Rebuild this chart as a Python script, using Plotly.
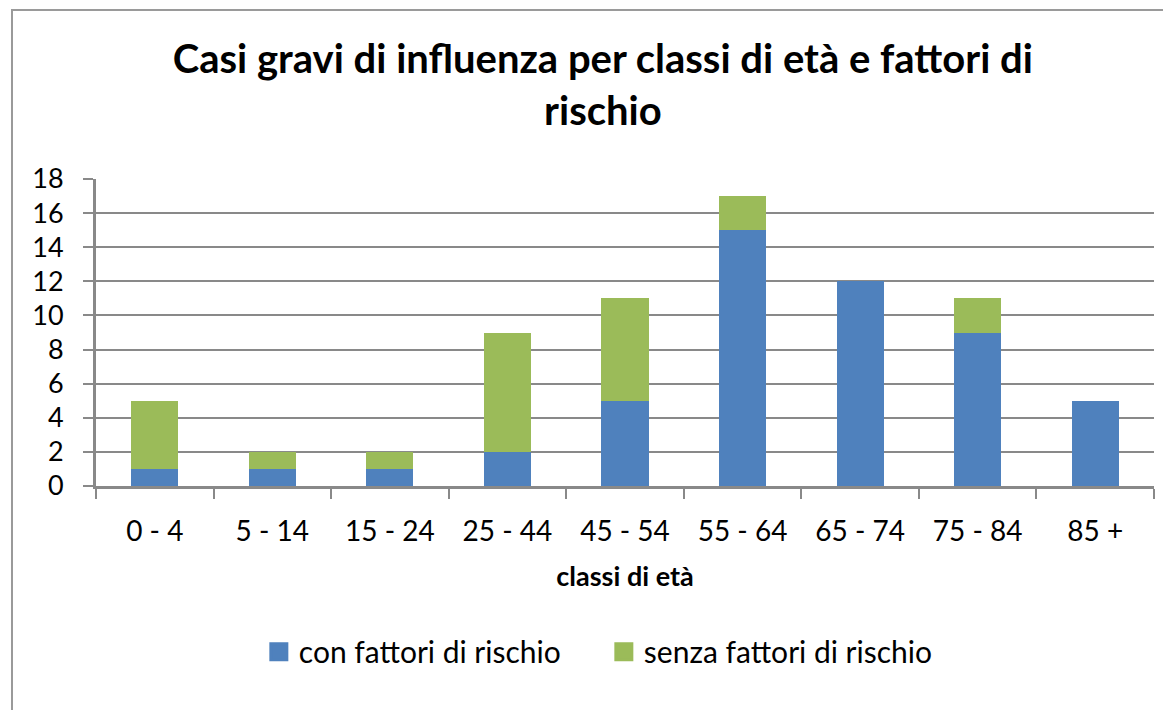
import plotly.graph_objects as go

categories = ["0 - 4", "5 - 14", "15 - 24", "25 - 44", "45 - 54", "55 - 64", "65 - 74", "75 - 84", "85 +"]
con_fattori = [1, 1, 1, 2, 5, 15, 12, 9, 5]
senza_fattori = [4, 1, 1, 7, 6, 2, 0, 2, 0]
y_ticks = [0, 2, 4, 6, 8, 10, 12, 14, 16, 18]
series_names = ["con fattori di rischio", "senza fattori di rischio"]
series_colors = ["#4F81BD", "#9BBB59"]

FONT = "Lato, 'Open Sans', sans-serif"

fig = go.Figure()
for vals, name, col in zip([con_fattori, senza_fattori], series_names, series_colors):
    fig.add_trace(go.Bar(x=categories, y=vals, name=name, showlegend=False, legendgroup=name,
                         marker=dict(color=col, line=dict(width=0))))
# legend entries with larger square swatches
for name, col in zip(series_names, series_colors):
    fig.add_trace(go.Scatter(x=[None], y=[None], mode="markers", name=name, legendgroup=name,
                             marker=dict(symbol="square", size=18, color=col,
                                         line=dict(color=col, width=3))))

fig.update_layout(
    width=1171, height=710,
    barmode="stack", bargap=0.6,
    paper_bgcolor="white", plot_bgcolor="white",
    margin=dict(l=88, r=25, t=171, b=232, autoexpand=False),
    font=dict(family=FONT, color="#000000"),
    title=dict(text="<b>Casi gravi di influenza per classi di età e fattori di<br>rischio</b>",
               x=0.508, xanchor="center", y=0.908, yanchor="middle",
               font=dict(size=40, family=FONT, color="#000000")),
    showlegend=True,
    legend=dict(orientation="h", x=0.48, xanchor="center", y=-0.54, yanchor="middle",
                font=dict(size=30, family=FONT, color="#000000"), itemwidth=30,
                entrywidth=300, entrywidthmode="pixels",
                traceorder="normal", bgcolor="rgba(0,0,0,0)"),
    xaxis=dict(type="category", showgrid=False, showline=True, linecolor="#898989", linewidth=3,
               ticks="outside", tickson="boundaries", ticklen=10, tickcolor="#898989", tickwidth=2,
               ticklabelstandoff=18,
               tickfont=dict(size=28, family=FONT, color="#000000"),
               title=dict(text="<b>classi di età</b>", font=dict(size=27, family=FONT, color="#000000"), standoff=22)),
    yaxis=dict(range=[0, 18], tickvals=y_ticks, showgrid=True, gridcolor="#898989", gridwidth=2,
               showline=True, linecolor="#898989", linewidth=3, zeroline=False,
               ticks="outside", ticklen=10, tickcolor="#898989", tickwidth=2,
               ticklabelstandoff=14,
               tickfont=dict(size=27, family=FONT, color="#000000")),
    shapes=[dict(type="rect", xref="paper", yref="paper", x0=-0.0794, x1=1.03, y0=-0.76, y1=1.5505,
                 line=dict(color="#9a9a9a", width=2), fillcolor="rgba(0,0,0,0)", layer="below")],
)

fig.write_html("out.html")
